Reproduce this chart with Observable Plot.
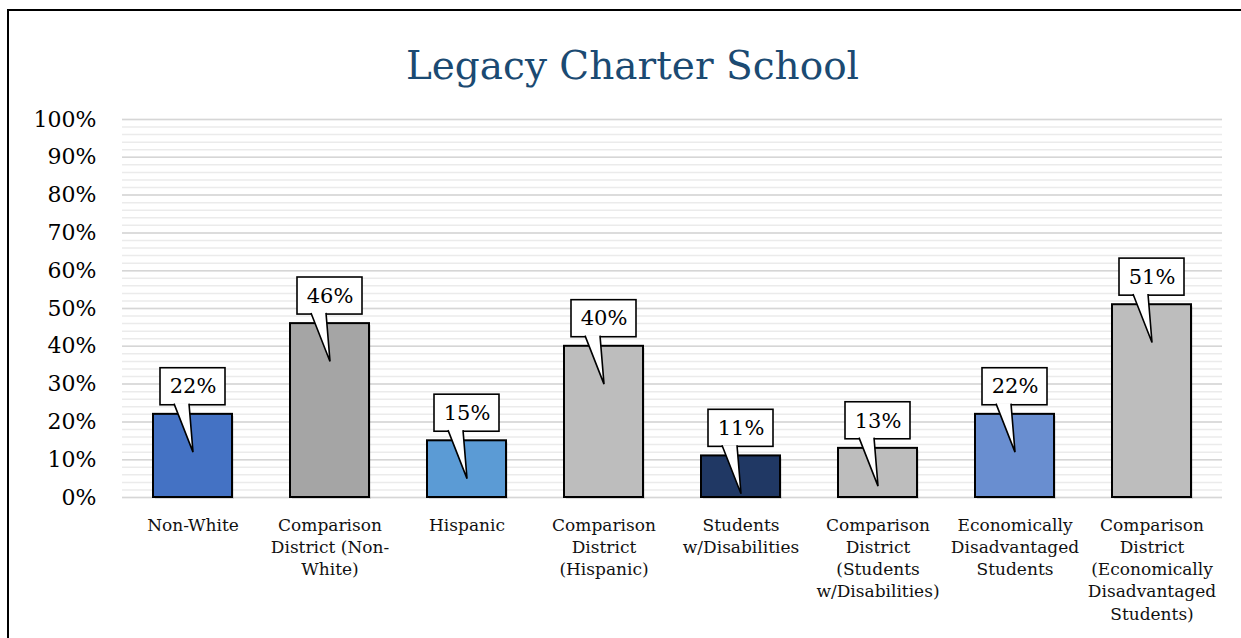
<!DOCTYPE html>
<html>
<head>
<meta charset="utf-8">
<script src="https://cdn.jsdelivr.net/npm/d3@7"></script>
<script src="https://cdn.jsdelivr.net/npm/@observablehq/plot@0.6"></script>
<style>
  html, body { margin: 0; padding: 0; background: #fff; overflow: hidden; }
  #wrap { position: relative; width: 1241px; height: 638px; }
  #frame { position: absolute; left: 7px; top: 9px; width: 1400px; height: 800px;
           border-left: 2.5px solid #000; border-top: 2.5px solid #000; pointer-events: none; }
  #title { position: absolute; left: 0; top: 0; width: 1265px; height: 100px; text-align: center;
           font-family: "DejaVu Serif", serif; font-size: 39px; color: #1B4A72; line-height: 100px;
           padding-top: 16px; box-sizing: border-box; }
  #chart { position: absolute; left: 0; top: 100px; }
</style>
</head>
<body>
<div id="wrap">
  <div id="title">Legacy Charter School</div>
  <div id="chart"></div>
  <div id="frame"></div>
</div>
<script>
const categories = [
  "Non-White",
  "Comparison District (Non-White)",
  "Hispanic",
  "Comparison District (Hispanic)",
  "Students w/Disabilities",
  "Comparison District (Students w/Disabilities)",
  "Economically Disadvantaged Students",
  "Comparison District (Economically Disadvantaged Students)"
];
const labels = [
  "Non-White",
  "Comparison\nDistrict (Non-\nWhite)",
  "Hispanic",
  "Comparison\nDistrict\n(Hispanic)",
  "Students\nw/Disabilities",
  "Comparison\nDistrict\n(Students\nw/Disabilities)",
  "Economically\nDisadvantaged\nStudents",
  "Comparison\nDistrict\n(Economically\nDisadvantaged\nStudents)"
];
const values = [22, 46, 15, 40, 11, 13, 22, 51];
const colors = ["#4472C4", "#A5A5A5", "#5B9BD5", "#BDBDBD", "#203864", "#BDBDBD", "#698ED0", "#BDBDBD"];
const yTicks = [0, 10, 20, 30, 40, 50, 60, 70, 80, 90, 100];
const minorTicks = d3.range(0, 101, 2);

const data = categories.map((c, i) => ({cat: c, label: labels[i], value: values[i], color: colors[i]}));

// callout pointer shape, anchored at its tip
const pointer = {
  draw(context) {
    context.moveTo(-19, -48.5);
    context.lineTo(0, 0);
    context.lineTo(-4, -48.5);
  }
};

const chart = Plot.plot({
  width: 1241,
  height: 538,
  marginTop: 19,
  marginBottom: 141,
  marginLeft: 122,
  marginRight: 19,
  style: {fontFamily: "'DejaVu Serif', serif", fontSize: "22px", color: "#000", background: "transparent"},
  x: {domain: categories, paddingInner: 0.425, paddingOuter: 0.2125, axis: null},
  y: {domain: [0, 100], ticks: yTicks, tickFormat: d => d + "%", tickSize: 0, tickPadding: 26, label: null},
  marks: [
    Plot.ruleY(minorTicks, {stroke: "#ebebeb", strokeWidth: 1.5}),
    Plot.ruleY(yTicks, {stroke: "#d6d6d6", strokeWidth: 1.5}),
    Plot.barY(data, {x: "cat", y: "value", fill: "#000", fillOpacity: 0.1, dx: 2, dy: 2}),
    Plot.barY(data, {x: "cat", y: "value", fill: "color", stroke: "#000", strokeWidth: 2}),
    Plot.barY(data, {x: "cat", y1: d => d.value + 2.4, y2: d => d.value + 12.2, fill: "#fff", stroke: "#000", strokeWidth: 1.6, insetLeft: 7, insetRight: 7}),
    Plot.dot(data, {x: "cat", y: d => d.value - 10, symbol: pointer, r: 5, fill: "#fff", stroke: "#000", strokeWidth: 1.6}),
    Plot.text(data, {x: "cat", y: d => d.value + 7.3, text: d => d.value + "%", fontSize: 21, fill: "#000"}),
    Plot.text(data, {x: "cat", y: 0, text: "label", lineAnchor: "top", dy: 18, fontSize: 17, lineHeight: 1.3, fill: "#111"})
  ]
});
document.getElementById("chart").appendChild(chart);
</script>
</body>
</html>
